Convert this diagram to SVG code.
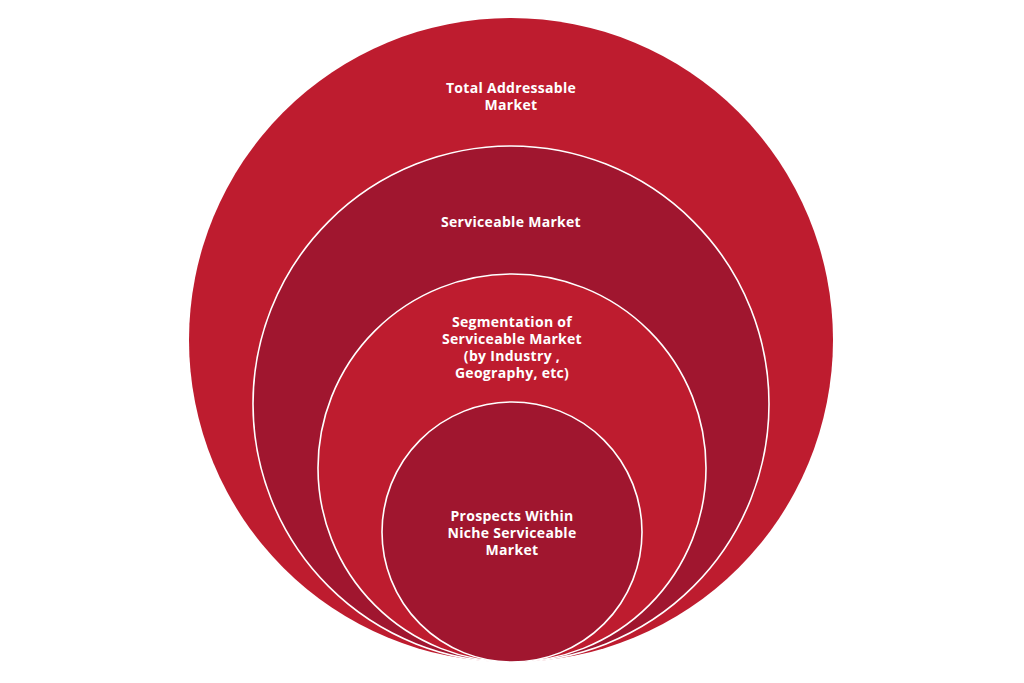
<svg xmlns="http://www.w3.org/2000/svg" width="1024" height="683" viewBox="0 0 1024 683">
<style>
.bright{fill:#BE1C2F}
.dark{fill:#A0162F}
.ring{stroke:#FFFFFF;stroke-width:1.6}
.lbl{font-family:"Open Sans","Liberation Sans",Arial,sans-serif;font-weight:bold;font-size:14px;letter-spacing:0.3px;fill:#FFFFFF;text-anchor:middle}
</style>
<rect width="1024" height="683" fill="#FFFFFF"/>
<g id="tam">
<circle class="bright" cx="511" cy="340" r="322"/>
<text class="lbl" x="511" y="93">Total Addressable</text>
<text class="lbl" x="511" y="110">Market</text>
</g>
<g id="sam">
<circle class="dark ring" cx="511" cy="404" r="258"/>
<text class="lbl" x="511" y="227">Serviceable Market</text>
</g>
<g id="segment">
<circle class="bright ring" cx="512" cy="468" r="194"/>
<text class="lbl" x="512" y="327">Segmentation of</text>
<text class="lbl" x="512" y="344">Serviceable Market</text>
<text class="lbl" x="512" y="361">(by Industry ,</text>
<text class="lbl" x="512" y="378">Geography, etc)</text>
</g>
<g id="prospects">
<circle class="dark ring" cx="512" cy="532" r="130"/>
<text class="lbl" x="512" y="521">Prospects Within</text>
<text class="lbl" x="512" y="538">Niche Serviceable</text>
<text class="lbl" x="512" y="555">Market</text>
</g>
<g id="connectors"/>
</svg>
